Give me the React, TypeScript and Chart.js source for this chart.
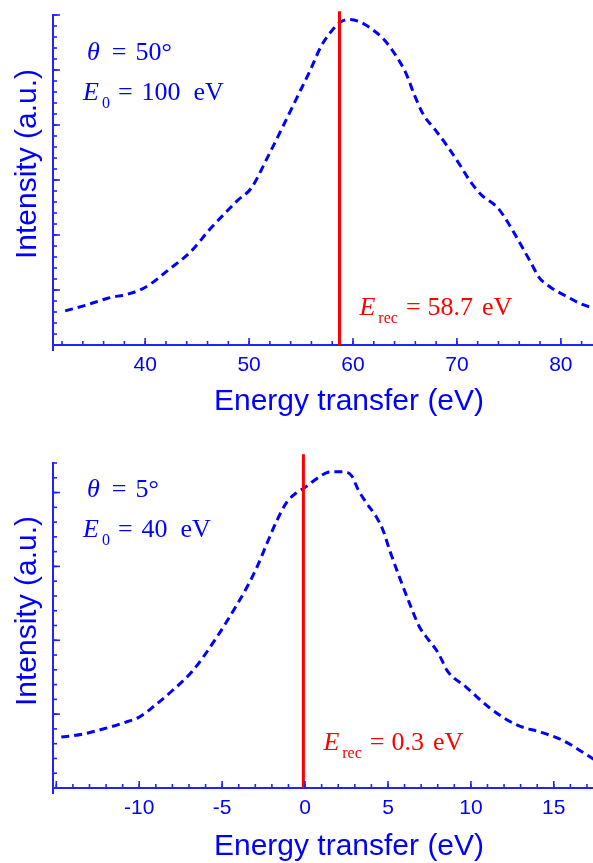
import React, { useEffect, useRef } from 'react';
import { Chart, registerables } from 'chart.js';

Chart.register(...registerables);

// ---------- Top panel (theta = 50°, E0 = 100 eV) ----------
const TOP_ENERGY = [32.3, 34.4, 36.4, 38.4, 39.5, 40.6, 42.2, 44.4, 46.2, 47.7, 48.9, 50.2, 51.8, 53.4, 55.0, 55.9, 56.9, 57.9, 58.7, 59.6, 60.6, 61.7, 63.0, 64.1, 65.1, 65.9, 66.8, 67.8, 69.1, 70.4, 71.3, 72.4, 73.9, 75.0, 76.1, 77.2, 77.9, 79.0, 80.4, 81.9, 83.0, 84.0];
const TOP_INTENSITY = [0.62, 0.73, 0.85, 0.93, 1.0, 1.12, 1.36, 1.7, 2.1, 2.4, 2.63, 2.85, 3.42, 4.03, 4.65, 5.0, 5.42, 5.7, 5.86, 5.92, 5.88, 5.76, 5.55, 5.27, 4.94, 4.55, 4.18, 3.94, 3.61, 3.24, 2.97, 2.72, 2.5, 2.2, 1.84, 1.47, 1.23, 1.05, 0.9, 0.75, 0.68, 0.64];
const TOP_E_REC = 58.7;
const TOP_X_MIN = 31.13;
const TOP_X_MAX = 88.1;
const TOP_Y_MIN = 0;
const TOP_Y_MAX = 6;
const TOP_X_LABELS = [40, 50, 60, 70, 80];
const TOP_X_MINOR_STEP = 2;
const TOP_Y_MAJOR_STEP = 1;
const TOP_Y_MINOR_STEP = 0.2;
const TOP_THETA = '50°';
const TOP_E0 = '100';
const TOP_EREC_TEXT = '58.7';

// ---------- Bottom panel (theta = 5°, E0 = 40 eV) ----------
const BOT_ENERGY = [-14.7, -13.4, -12.0, -10.7, -10.0, -9.1, -8.0, -6.8, -5.3, -4.3, -3.5, -2.9, -2.3, -1.7, -1.1, -0.5, 0.0, 0.9, 1.5, 2.3, 2.8, 3.2, 3.7, 4.3, 4.7, 5.1, 5.7, 6.3, 6.9, 7.4, 8.0, 8.6, 9.7, 11.1, 12.7, 14.3, 15.4, 17.2, 18.0];
const BOT_INTENSITY = [0.69, 0.73, 0.81, 0.9, 0.96, 1.11, 1.32, 1.58, 2.05, 2.41, 2.72, 2.99, 3.31, 3.62, 3.87, 4.0, 4.07, 4.22, 4.28, 4.28, 4.23, 4.04, 3.86, 3.67, 3.49, 3.22, 2.85, 2.5, 2.18, 2.02, 1.84, 1.58, 1.37, 1.09, 0.86, 0.75, 0.66, 0.42, 0.3];
const BOT_E_REC_LINE = -0.1;
const BOT_X_MIN = -15.2;
const BOT_X_MAX = 20.5;
const BOT_Y_MIN = 0;
const BOT_Y_MAX = 4.4;
const BOT_X_LABELS = [-10, -5, 0, 5, 10, 15];
const BOT_X_MINOR_STEP = 1;
const BOT_Y_MAJOR_STEP = 1;
const BOT_Y_MINOR_STEP = 0.2;
const BOT_THETA = '5°';
const BOT_E0 = '40';
const BOT_EREC_TEXT = '0.3';

const X_TITLE = 'Energy transfer (eV)';
const Y_TITLE = 'Intensity (a.u.)';

const BLUE = '#0000ff';
const AXIS = '#2222ff';
const RED = '#ff0000';
const SANS = '"Liberation Sans", Arial, Helvetica, sans-serif';
const SERIF = '"Liberation Serif", "Times New Roman", Times, serif';

const CANVAS_W = 680;

type Run = { text: string; italic?: boolean; size?: number; gap?: number; shift?: number };

function drawRuns(ctx: CanvasRenderingContext2D, x: number, y: number, runs: Run[], color: string) {
  let cx = x;
  ctx.textAlign = 'left';
  ctx.textBaseline = 'alphabetic';
  ctx.fillStyle = color;
  for (const r of runs) {
    cx += r.gap || 0;
    ctx.font = `${r.italic ? 'italic ' : ''}${r.size || 25}px ${SERIF}`;
    ctx.fillText(r.text, cx, y + (r.shift || 0));
    cx += ctx.measureText(r.text).width;
  }
}

function range(a: number, b: number, step: number) {
  const out: number[] = [];
  const n = Math.floor((b - a) / step + 1e-9);
  for (let i = 0; i <= n; i++) out.push(+(a + i * step).toFixed(6));
  return out;
}

type PanelCfg = {
  height: number;
  padTop: number;
  xAxisHeight: number;
  xTitlePadBottom: number;
  energy: number[];
  intensity: number[];
  eRecLine: number;
  eRecTop: number;
  xMin: number; xMax: number; yMin: number; yMax: number;
  xLabels: number[]; xMinorStep: number; yMajorStep: number; yMinorStep: number;
  theta: string; e0: string; eRecText: string;
  thetaBase: number; e0Base: number; eRecBase: number;
  yTitleCenter: number;
};

function makeDecor(cfg: PanelCfg) {
  return {
    id: 'decor',
    afterDraw(chart: any) {
      const ctx: CanvasRenderingContext2D = chart.ctx;
      const xs = chart.scales.x;
      const ys = chart.scales.y;
      const a = chart.chartArea;
      ctx.save();
      // inward tick marks
      ctx.strokeStyle = AXIS;
      ctx.lineWidth = 1.6;
      const majorStep = cfg.xLabels[1] - cfg.xLabels[0];
      const xMajor = range(Math.ceil(cfg.xMin / majorStep) * majorStep, cfg.xMax, majorStep);
      const xMinor = range(Math.ceil(cfg.xMin / cfg.xMinorStep) * cfg.xMinorStep, cfg.xMax, cfg.xMinorStep);
      const tickX = (v: number, len: number) => {
        const p = xs.getPixelForValue(v);
        if (p < a.left + 2 || p > a.right) return;
        ctx.beginPath(); ctx.moveTo(p, a.bottom); ctx.lineTo(p, a.bottom - len); ctx.stroke();
      };
      xMinor.forEach((v) => tickX(v, 4));
      xMajor.forEach((v) => tickX(v, 7));
      const yMajor = range(cfg.yMin, cfg.yMax, cfg.yMajorStep);
      const yMinor = range(cfg.yMin, cfg.yMax, cfg.yMinorStep);
      const tickY = (v: number, len: number) => {
        const p = ys.getPixelForValue(v);
        if (p > a.bottom - 2 || p < a.top - 1) return;
        ctx.beginPath(); ctx.moveTo(a.left, p); ctx.lineTo(a.left + len, p); ctx.stroke();
      };
      yMinor.forEach((v) => tickY(v, 4));
      yMajor.forEach((v) => tickY(v, 7));
      // y-axis extends a little below the x-axis
      ctx.lineWidth = 2;
      ctx.beginPath(); ctx.moveTo(a.left, a.bottom); ctx.lineTo(a.left, a.bottom + 6); ctx.stroke();

      // y title
      ctx.save();
      ctx.translate(35.5, cfg.yTitleCenter);
      ctx.rotate(-Math.PI / 2);
      ctx.font = `30px ${SANS}`;
      ctx.textAlign = 'center';
      ctx.textBaseline = 'alphabetic';
      ctx.fillStyle = BLUE;
      ctx.fillText(Y_TITLE, 0, 0);
      ctx.restore();

      // annotations
      drawRuns(ctx, 87, cfg.thetaBase, [
        { text: 'θ', italic: true, size: 26 },
        { text: '=', gap: 12, size: 26 },
        { text: cfg.theta, gap: 9, size: 26 },
      ], BLUE);
      drawRuns(ctx, 83, cfg.e0Base, [
        { text: 'E', italic: true, size: 26 },
        { text: '0', size: 16, gap: 3, shift: 8 },
        { text: '=', gap: 8, size: 26 },
        { text: cfg.e0, gap: 9, size: 26 },
        { text: 'eV', gap: 13, size: 26 },
      ], BLUE);
      const rx = xs.getPixelForValue(cfg.eRecLine) + 20;
      drawRuns(ctx, rx, cfg.eRecBase, [
        { text: 'E', italic: true, size: 26 },
        { text: 'rec', size: 16, gap: 3, shift: 8 },
        { text: '=', gap: 8, size: 26 },
        { text: cfg.eRecText, gap: 7, size: 26 },
        { text: 'eV', gap: 9, size: 26 },
      ], RED);
      ctx.restore();
    },
  };
}

const TOP: PanelCfg = {
  height: 430,
  padTop: 15,
  xAxisHeight: 85,
  xTitlePadBottom: 10.5,
  energy: TOP_ENERGY,
  intensity: TOP_INTENSITY,
  eRecLine: TOP_E_REC,
  eRecTop: 6.07,
  xMin: TOP_X_MIN, xMax: TOP_X_MAX, yMin: TOP_Y_MIN, yMax: TOP_Y_MAX,
  xLabels: TOP_X_LABELS, xMinorStep: TOP_X_MINOR_STEP, yMajorStep: TOP_Y_MAJOR_STEP, yMinorStep: TOP_Y_MINOR_STEP,
  theta: TOP_THETA, e0: TOP_E0, eRecText: TOP_EREC_TEXT,
  thetaBase: 60, e0Base: 100, eRecBase: 315,
  yTitleCenter: 164,
};

const BOTTOM: PanelCfg = {
  height: 433,
  padTop: 33,
  xAxisHeight: 75,
  xTitlePadBottom: -2,
  energy: BOT_ENERGY,
  intensity: BOT_INTENSITY,
  eRecLine: BOT_E_REC_LINE,
  eRecTop: 4.52,
  xMin: BOT_X_MIN, xMax: BOT_X_MAX, yMin: BOT_Y_MIN, yMax: BOT_Y_MAX,
  xLabels: BOT_X_LABELS, xMinorStep: BOT_X_MINOR_STEP, yMajorStep: BOT_Y_MAJOR_STEP, yMinorStep: BOT_Y_MINOR_STEP,
  theta: BOT_THETA, e0: BOT_E0, eRecText: BOT_EREC_TEXT,
  thetaBase: 67, e0Base: 107, eRecBase: 320,
  yTitleCenter: 181,
};

function Panel({ cfg }: { cfg: PanelCfg }) {
  const ref = useRef<HTMLCanvasElement>(null);
  useEffect(() => {
    const curve = cfg.energy.map((x, i) => ({ x, y: cfg.intensity[i] }));
    const chart = new Chart(ref.current as HTMLCanvasElement, {
      type: 'line',
      data: {
        datasets: [
          {
            label: 'E_rec',
            data: [{ x: cfg.eRecLine, y: cfg.yMin }, { x: cfg.eRecLine, y: cfg.eRecTop }],
            borderColor: RED,
            borderWidth: 3,
            pointRadius: 0,
            clip: false as any,
            order: 0,
          },
          {
            label: 'Intensity',
            data: curve,
            borderColor: BLUE,
            borderWidth: 3,
            borderDash: [8, 5],
            pointRadius: 0,
            cubicInterpolationMode: 'monotone',
            order: 1,
          },
        ],
      },
      options: {
        animation: false,
        responsive: false,
        devicePixelRatio: 1,
        events: [],
        layout: { padding: { left: 0, top: cfg.padTop, right: CANVAS_W - 645, bottom: 0 } },
        plugins: { legend: { display: false }, tooltip: { enabled: false } },
        scales: {
          x: {
            type: 'linear',
            min: cfg.xMin,
            max: cfg.xMax,
            afterBuildTicks: (s: any) => { s.ticks = cfg.xLabels.map((v) => ({ value: v })); },
            afterFit: (s: any) => { s.height = cfg.xAxisHeight; },
            ticks: { color: BLUE, font: { size: 21, family: SANS }, padding: 8, maxRotation: 0, autoSkip: false, includeBounds: false },
            grid: { display: false, drawTicks: false },
            border: { display: true, color: AXIS, width: 2 },
            title: { display: true, text: X_TITLE, color: BLUE, font: { size: 30, family: SANS }, padding: { top: 0, bottom: cfg.xTitlePadBottom } },
          },
          y: {
            type: 'linear',
            min: cfg.yMin,
            max: cfg.yMax,
            afterFit: (s: any) => { s.width = 53; },
            ticks: { display: false },
            grid: { display: false, drawTicks: false },
            border: { display: true, color: AXIS, width: 2 },
          },
        },
      } as any,
      plugins: [makeDecor(cfg)],
    });
    return () => chart.destroy();
  }, [cfg]);
  return <canvas ref={ref} width={CANVAS_W} height={cfg.height} style={{ display: 'block', width: CANVAS_W, height: cfg.height }} />;
}

export default function App() {
  return (
    <div style={{ position: 'absolute', left: 0, top: 0, width: 593, height: 863, overflow: 'hidden', background: '#ffffff' }}>
      <Panel cfg={TOP} />
      <Panel cfg={BOTTOM} />
    </div>
  );
}
